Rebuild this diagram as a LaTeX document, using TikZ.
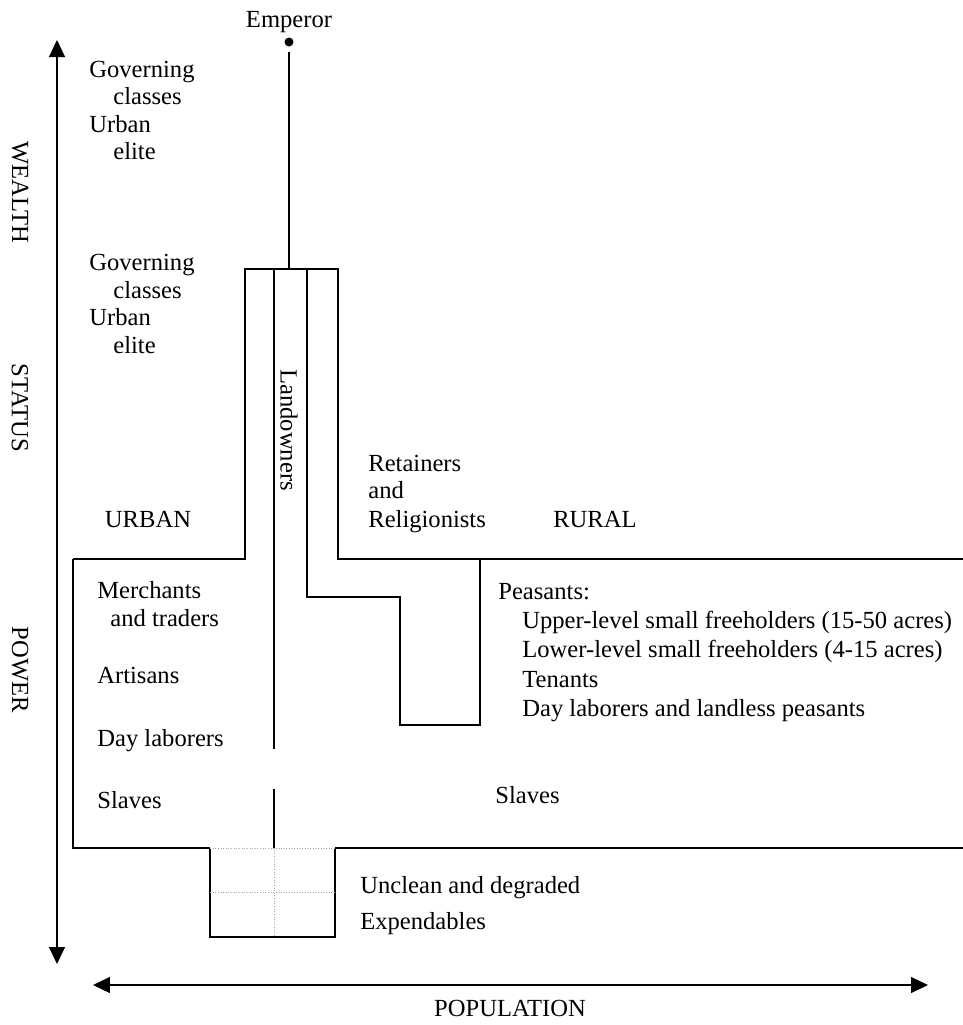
\documentclass[tikz,border=0pt]{standalone}
\usepackage{fontspec}
\setmainfont{Liberation Serif}
\usetikzlibrary{arrows.meta}

\tikzset{
  lbl/.style={anchor=base west,inner sep=0pt,font=\fontsize{14}{16}\selectfont},
  axis/.style={inner sep=0pt,font=\fontsize{14}{16}\selectfont,rotate=-90},
  wall/.style={line width=0.6pt},
  grid/.style={line width=0.5pt,densely dotted,gray!70},
}

\begin{document}
\begin{tikzpicture}[x=0.02cm,y=-0.02cm,>={Triangle[length=0.34cm,width=0.32cm]}]
    \useasboundingbox (0,0) rectangle (963,1025);

    % axes
    \coordinate (up) at (57,40);
    \coordinate (down) at (57,964);
    \coordinate (left) at (93,985);
    \coordinate (right) at (928,985);
    \draw[<->,line width=0.6pt] (up) -- (down);
    \draw[<->,line width=0.6pt] (left) -- (right);
    \node[axis] (wealth) at (20,192) {WEALTH};
    \node[axis] (status) at (20,408) {STATUS};
    \node[axis] (power) at (20,670) {POWER};
    \node[lbl,anchor=base] (pop) at (510,1016) {POPULATION};

    % emperor
    \node[lbl,anchor=base] (emperor) at (289,27) {Emperor};
    \node[circle,fill,inner sep=0pt,minimum size=0.18cm,outer sep=3pt] (dot) at (289,42) {};
    \coordinate (top) at (289,269);
    \draw[wall] (dot) -- (top);

    % outline
    \draw[wall] (73,559) -- (245,559) -- (245,269) -- (338,269) -- (338,559) -- (963,559);
    \draw[wall] (210,848) -- (73,848) -- (73,559);
    \draw[wall] (335,848) -- (963,848);
    \draw[wall] (210,848) -- (210,937) -- (335,937) -- (335,848);
    \draw[wall] (274,269) -- (274,749);
    \draw[wall] (274,789) -- (274,848);
    \draw[wall] (307,269) -- (307,597) -- (400,597) -- (400,725) -- (480,725) -- (480,559);

    % outcasts
    \draw[grid] (210,848) -- (335,848);
    \draw[grid] (210,892) -- (335,892);
    \draw[grid] (274,848) -- (274,937);

    % labels
    \node[lbl] (gov1) at (89,77) {Governing};
    \node[lbl] (cls1) at (113,104) {classes};
    \node[lbl] (urb1) at (89,132) {Urban};
    \node[lbl] (eli1) at (113,159) {elite};
    \node[lbl] (gov2) at (89,270) {Governing};
    \node[lbl] (cls2) at (113,298) {classes};
    \node[lbl] (urb2) at (89,325) {Urban};
    \node[lbl] (eli2) at (113,353) {elite};
    \node[axis] (land) at (289,430) {Landowners};
    \node[lbl] (ret1) at (368,471) {Retainers};
    \node[lbl] (ret2) at (368,498) {and};
    \node[lbl] (ret3) at (368,527) {Religionists};
    \node[lbl,anchor=base] (urban) at (148,527) {URBAN};
    \node[lbl,anchor=base] (rural) at (595,527) {RURAL};
    \node[lbl] (mer1) at (97,598) {Merchants};
    \node[lbl] (mer2) at (110,626) {and traders};
    \node[lbl] (art) at (97,683) {Artisans};
    \node[lbl] (day) at (97,746) {Day laborers};
    \node[lbl] (slv1) at (97,808) {Slaves};
    \node[lbl] (pea) at (498,599) {Peasants:};
    \node[lbl] (pea1) at (522,628) {Upper-level small freeholders (15-50 acres)};
    \node[lbl] (pea2) at (522,657) {Lower-level small freeholders (4-15 acres)};
    \node[lbl] (pea3) at (522,687) {Tenants};
    \node[lbl] (pea4) at (522,716) {Day laborers and landless peasants};
    \node[lbl] (slv2) at (495,803) {Slaves};
    \node[lbl] (unc) at (360,893) {Unclean and degraded};
    \node[lbl] (exp) at (360,929) {Expendables};
\end{tikzpicture}
\end{document}
